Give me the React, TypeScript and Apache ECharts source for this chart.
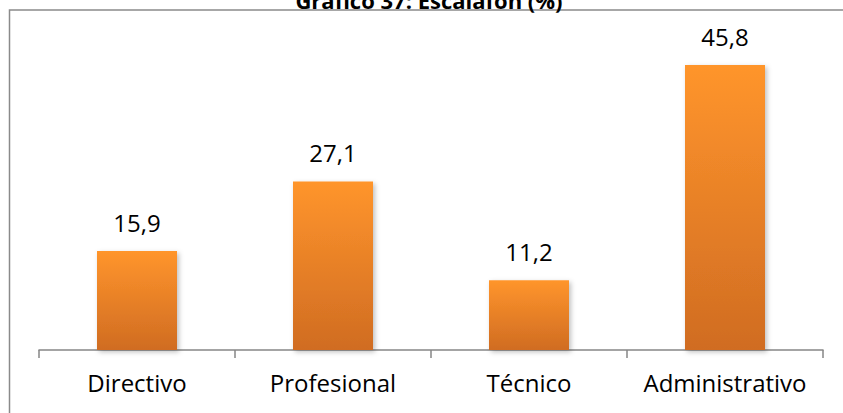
import React, { useEffect, useRef } from "react";
import * as echarts from "echarts";

const categories = ["Directivo", "Profesional", "Técnico", "Administrativo"];
const values = [15.9, 27.1, 11.2, 45.8];
const titleText = "Gráfico 37: Escalafón (%)";

const FONT = "'Open Sans', 'Noto Sans', sans-serif";

export default function App() {
  const ref = useRef<HTMLDivElement>(null);
  useEffect(() => {
    document.body.style.margin = "0";
    const chart = echarts.init(ref.current!, null, { renderer: "svg" });
    chart.setOption({
      animation: false,
      backgroundColor: "#ffffff",
      textStyle: { fontFamily: FONT },
      grid: { left: 39, right: 20, top: 39, bottom: 63 },
      graphic: [
        {
          type: "rect",
          shape: { x: 9.5, y: 10, width: 900, height: 500 },
          style: { fill: "none", stroke: "#8a8a8a", lineWidth: 1.5 },
          silent: true,
        },
        {
          type: "text",
          x: 429,
          y: 11,
          style: {
            text: titleText,
            font: `bold 22px ${FONT}`,
            fill: "#000",
            textAlign: "center",
            textVerticalAlign: "bottom",
          },
        },
      ],
      xAxis: {
        type: "category",
        data: categories,
        axisLine: { lineStyle: { color: "#868686", width: 1.5 } },
        axisTick: { show: true, interval: 0, length: 8, lineStyle: { color: "#868686", width: 1.5 } },
        axisLabel: { color: "#000", fontSize: 24, fontFamily: FONT, margin: 20, interval: 0 },
      },
      yAxis: {
        type: "value",
        min: 0,
        max: 50,
        show: false,
        splitLine: { show: false },
      },
      series: [
        {
          type: "bar",
          data: values,
          barWidth: 80,
          itemStyle: {
            color: new echarts.graphic.LinearGradient(0, 0, 0, 1, [
              { offset: 0, color: "#FF952C" },
              { offset: 1, color: "#D06C22" },
            ]),
            shadowColor: "rgba(0,0,0,0.25)",
            shadowBlur: 5,
            shadowOffsetX: 2,
            shadowOffsetY: 2,
          },
          label: {
            show: true,
            position: "top",
            distance: 17,
            color: "#000",
            fontSize: 24,
            fontFamily: FONT,
            formatter: (p: any) => String(p.value).replace(".", ","),
          },
        },
      ],
    });
    return () => chart.dispose();
  }, []);
  return (
    <div
      ref={ref}
      style={{ position: "fixed", left: 0, top: 0, width: 843, height: 413 }}
    />
  );
}
